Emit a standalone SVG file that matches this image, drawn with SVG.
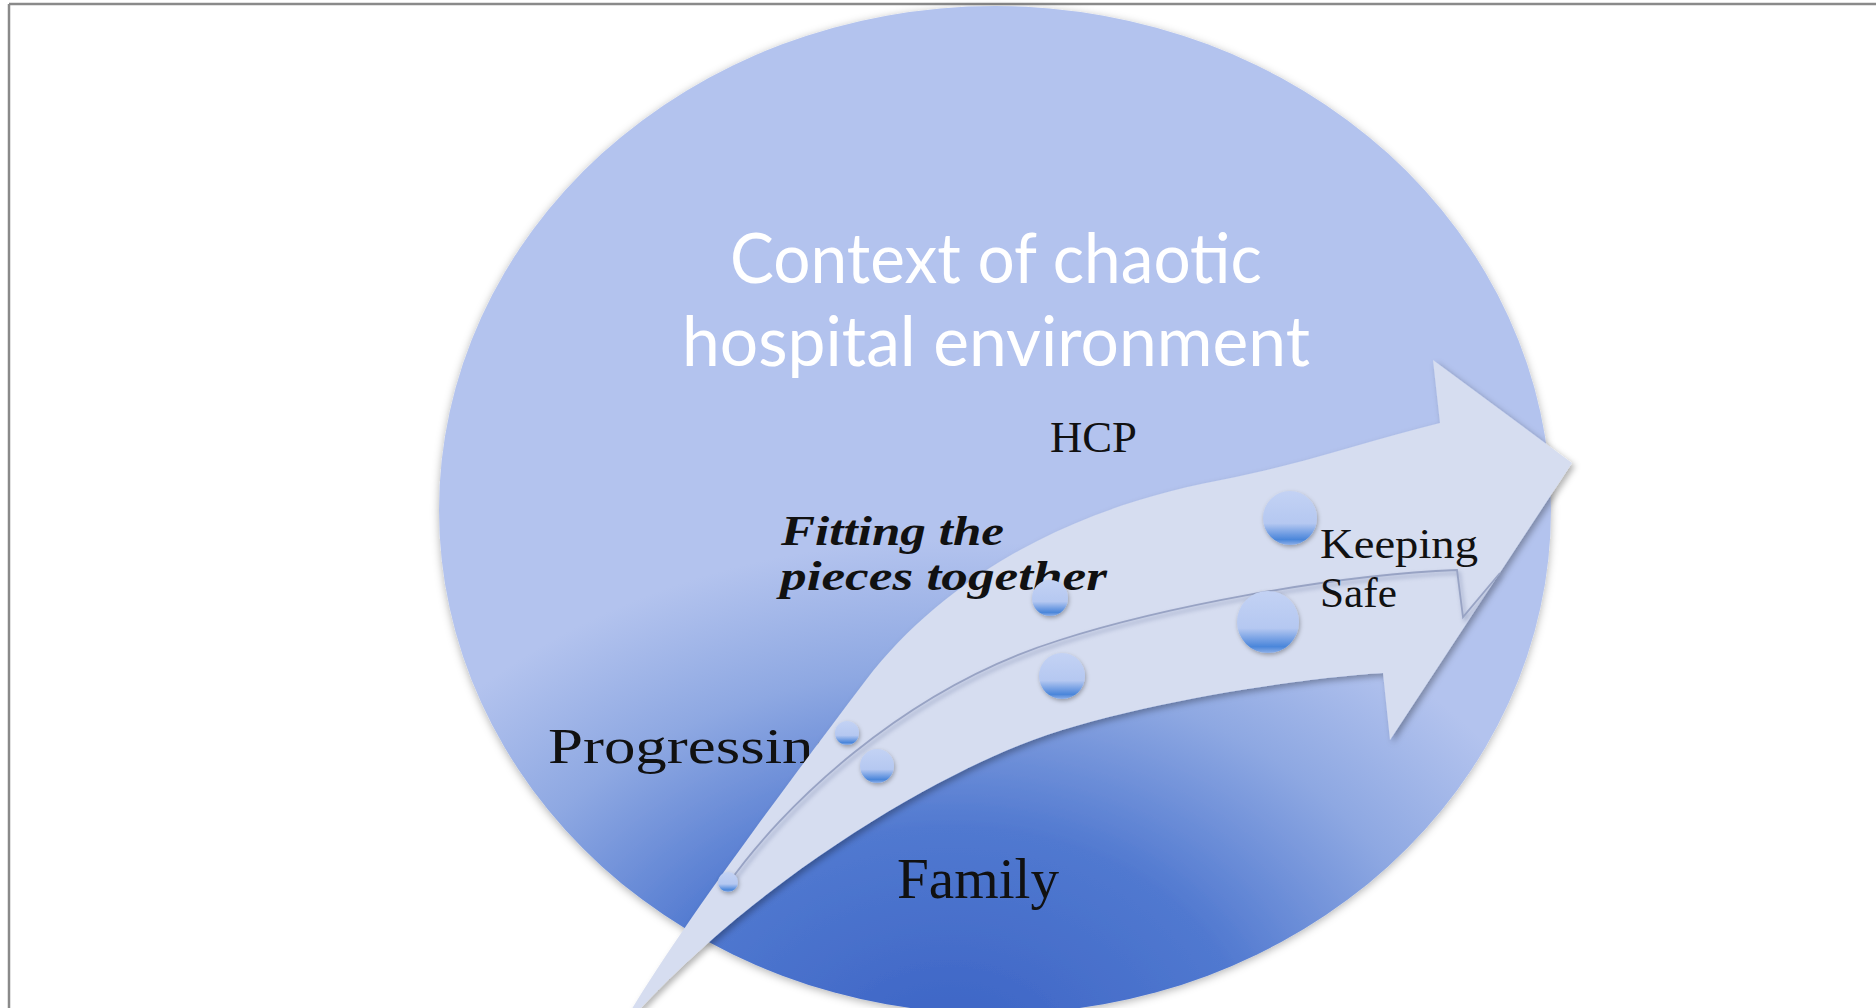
<svg xmlns="http://www.w3.org/2000/svg" width="1876" height="1008" viewBox="0 0 1876 1008">
  <defs>
    <style>
      .title { font-family: Lato, "Open Sans", "Liberation Sans", sans-serif; font-size: 70px; fill: #ffffff; text-anchor: middle; }
      .lbl { font-family: "Liberation Serif", "DejaVu Serif", serif; fill: #111111; }
      .lblbi { font-family: "Liberation Serif", "DejaVu Serif", serif; font-weight: bold; font-style: italic; fill: #111111; }
      .dot { fill: url(#dotGrad); filter: url(#dotShadow); }
      .midline { fill: none; stroke: #98a3c4; stroke-width: 1.8; }
    </style>
    <radialGradient id="ellGrad" gradientUnits="userSpaceOnUse" cx="950" cy="1060" r="520" gradientTransform="translate(950 1060) scale(1.3 1) translate(-950 -1060)">
      <stop offset="0" stop-color="#3a62c4"/>
      <stop offset="0.45" stop-color="#5179d0"/>
      <stop offset="0.75" stop-color="#8ea8e2"/>
      <stop offset="1" stop-color="#b3c3ee"/>
    </radialGradient>
    <linearGradient id="dotGrad" x1="0" y1="0" x2="0" y2="1">
      <stop offset="0" stop-color="#c3d2f4"/>
      <stop offset="0.6" stop-color="#b5c8f1"/>
      <stop offset="0.8" stop-color="#6d9be2"/>
      <stop offset="0.9" stop-color="#4a86da"/>
      <stop offset="1" stop-color="#8fb0e8"/>
    </linearGradient>
    <filter id="ellShadow" x="-5%" y="-5%" width="110%" height="110%">
      <feDropShadow dx="0" dy="2" stdDeviation="4" flood-color="#000000" flood-opacity="0.3"/>
    </filter>
    <filter id="arrowShadow" x="-10%" y="-10%" width="120%" height="120%">
      <feDropShadow dx="3" dy="3" stdDeviation="3" flood-color="#000000" flood-opacity="0.3"/>
    </filter>
    <filter id="dotShadow" x="-30%" y="-30%" width="160%" height="160%">
      <feDropShadow dx="1" dy="2" stdDeviation="2" flood-color="#000000" flood-opacity="0.3"/>
    </filter>
    <filter id="lineShadow" x="-10%" y="-10%" width="120%" height="120%">
      <feGaussianBlur stdDeviation="2"/>
    </filter>
  </defs>

  <rect x="0" y="0" width="1876" height="1008" fill="#ffffff"/>
  <g id="frame">
    <line x1="9" y1="4" x2="1876" y2="4" stroke="#8a8a8a" stroke-width="2.5"/>
    <line x1="9" y1="4" x2="9" y2="1008" stroke="#8a8a8a" stroke-width="2.5"/>
  </g>

  <g id="context">
    <ellipse cx="995" cy="510" rx="556" ry="504" fill="url(#ellGrad)" filter="url(#ellShadow)"/>
    <text class="title" x="996" y="283" textLength="532" lengthAdjust="spacingAndGlyphs">Context of chaotic</text>
    <text class="title" x="996" y="366" textLength="628" lengthAdjust="spacingAndGlyphs">hospital environment</text>
  </g>

  <g id="hcp">
    <text class="lbl" x="1050" y="452" font-size="45" textLength="87" lengthAdjust="spacingAndGlyphs">HCP</text>
  </g>

  <g id="progressing">
    <text class="lbl" x="548" y="763" font-size="50" textLength="297" lengthAdjust="spacingAndGlyphs">Progressing</text>
  </g>

  <g id="family">
    <text class="lbl" x="897" y="898" font-size="56" textLength="162" lengthAdjust="spacingAndGlyphs">Family</text>
  </g>

  <g id="connectors">
    <path id="arrow" d="M630,1012 C680,930 760,820 866,680 C940,584 1060,510 1221,480 C1300,465 1370,440 1440,423 L1433,360 L1572,463 L1390,740 L1383,673 C1300,678 1120,705 1020,745 C920,785 760,880 637,1012 Z" fill="#d6ddf0" filter="url(#arrowShadow)"/>
    <path d="M728,884 C780,810 900,690 1060,640 C1160,608 1330,575 1457,570 L1463,617 L1500,573" fill="none" stroke="#7f8bb0" stroke-width="3" opacity="0.5" filter="url(#lineShadow)" transform="translate(2 3)"/>
    <path class="midline" d="M728,884 C780,810 900,690 1060,640 C1160,608 1330,575 1457,570 L1463,617 L1500,573"/>
  </g>

  <g id="fitting">
    <text class="lblbi" x="781" y="545" font-size="42" textLength="223" lengthAdjust="spacingAndGlyphs">Fitting the</text>
    <text class="lblbi" x="780" y="590" font-size="42" textLength="327" lengthAdjust="spacingAndGlyphs">pieces together</text>
  </g>

  <g id="dots">
    <circle class="dot" cx="728" cy="882" r="10"/>
    <circle class="dot" cx="847" cy="733" r="12"/>
    <circle class="dot" cx="1050" cy="598" r="18"/>
    <circle class="dot" cx="1290" cy="518" r="27"/>
    <circle class="dot" cx="877" cy="766" r="17"/>
    <circle class="dot" cx="1062" cy="676" r="23"/>
    <circle class="dot" cx="1268" cy="622" r="31"/>
  </g>

  <g id="keeping-safe">
    <text class="lbl" x="1320" y="558" font-size="42" textLength="158" lengthAdjust="spacingAndGlyphs">Keeping</text>
    <text class="lbl" x="1320" y="607" font-size="42" textLength="77" lengthAdjust="spacingAndGlyphs">Safe</text>
  </g>
</svg>
